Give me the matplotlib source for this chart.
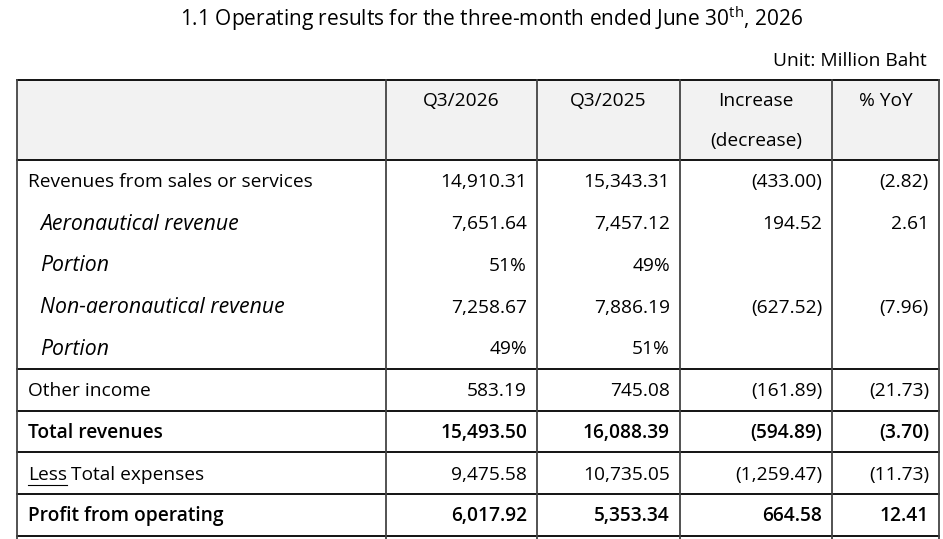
import matplotlib.pyplot as plt
from matplotlib.patches import Rectangle

plt.rcParams['font.family'] = ['Open Sans', 'DejaVu Sans']
plt.rcParams['mathtext.fontset'] = 'custom'
plt.rcParams['mathtext.rm'] = 'Open Sans'

# table data
col_headers = ["Q3/2026", "Q3/2025", "Increase\n(decrease)", "% YoY"]
row_labels = [
    "Revenues from sales or services",
    "Aeronautical revenue",
    "Portion",
    "Non-aeronautical revenue",
    "Portion",
    "Other income",
    "Total revenues",
    "Total expenses",
    "Profit from operating",
]
q3_2026 = ["14,910.31", "7,651.64", "51%", "7,258.67", "49%",
           "583.19", "15,493.50", "9,475.58", "6,017.92"]
q3_2025 = ["15,343.31", "7,457.12", "49%", "7,886.19", "51%",
           "745.08", "16,088.39", "10,735.05", "5,353.34"]
change = ["(433.00)", "194.52", "", "(627.52)", "",
          "(161.89)", "(594.89)", "(1,259.47)", "664.58"]
yoy = ["(2.82)", "2.61", "", "(7.96)", "",
       "(21.73)", "(3.70)", "(11.73)", "12.41"]
italic_rows = [1, 2, 3, 4]
bold_rows = [6, 8]
lines_after = [4, 5, 6, 7, 8]   # horizontal rule under these rows

W, H = 943, 539
fig = plt.figure(figsize=(W / 100, H / 100), dpi=100)
ax = fig.add_axes([0, 0, 1, 1])
ax.set_xlim(0, W)
ax.set_ylim(H, 0)
ax.axis("off")

left, right = 17, 939
col_x = [left, 386, 537, 680, 832, right]
top, head_bot = 80, 160
row_h = 41.75
fs = 13.8

ax.text(492, 19, r"1.1 Operating results for the three-month ended June 30$^{\mathrm{th}}$, 2026",
        ha="center", va="center", fontsize=15)
ax.text(927, 61, "Unit: Million Baht", ha="right", va="center", fontsize=fs)

# header background
ax.add_patch(Rectangle((left, top), right - left, head_bot - top,
                       facecolor="#f2f2f2", edgecolor="none", zorder=0))

# header text
for i, h in enumerate(col_headers):
    cx = (col_x[i + 1] + col_x[i + 2]) / 2
    for j, part in enumerate(h.split("\n")):
        ax.text(cx, 101 + j * 40, part, ha="center", va="center", fontsize=fs)

# body
for r, lab in enumerate(row_labels):
    y = head_bot + row_h * (r + 0.5) + 1.5
    weight = "semibold" if r in bold_rows else "normal"
    if r == 7:
        t = ax.text(28, y, "Less", ha="left", va="center", fontsize=fs)
        fig.canvas.draw()
        bb = t.get_window_extent().transformed(ax.transData.inverted())
        ax.plot([bb.x0, bb.x1], [y + 10, y + 10], color="black", lw=0.8)
        ax.text(bb.x1 + 4, y, lab, ha="left", va="center", fontsize=fs)
    elif r in italic_rows:
        ax.text(40, y, lab, ha="left", va="center", fontsize=15.3,
                fontstyle="italic")
    else:
        ax.text(28, y, lab, ha="left", va="center", fontsize=fs,
                fontweight=weight)
    for c, vals in enumerate([q3_2026, q3_2025, change, yoy]):
        ax.text(col_x[c + 2] - 10, y, vals[r], ha="right", va="center",
                fontsize=fs, fontweight=weight)

# horizontal rules
ax.plot([left, right], [top, top], color="black", lw=1.3)
ax.plot([left, right], [head_bot, head_bot], color="black", lw=1.3)
for r in lines_after:
    y = head_bot + row_h * (r + 1)
    ax.plot([left, right], [y, y], color="black", lw=1.3)

# vertical rules
for x in col_x:
    ax.plot([x, x], [top, H + 5], color="#444444", lw=1.3)

fig.savefig("out.png", dpi=100)
